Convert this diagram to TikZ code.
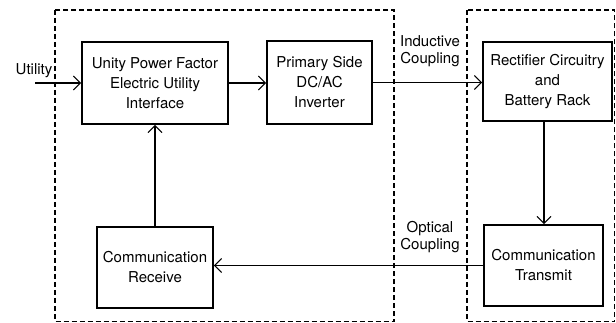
\documentclass[tikz,border=0pt]{standalone}
\usepackage{fontspec}
\setmainfont{TeX Gyre Heros}
\usetikzlibrary{arrows.meta}
\tikzset{
  blockbox/.style={draw, line width=1.6pt, rectangle, align=center, inner sep=0pt,
    font=\fontsize{15}{20}\selectfont},
  region/.style={draw, line width=1.5pt, dash pattern=on 5pt off 3pt},
  flow/.style={draw, line width=1.6pt, -{Straight Barb[length=7pt,width=14pt,line width=1.1pt]}},
  lbl/.style={align=center, inner sep=0pt, font=\fontsize{15}{17.5}\selectfont}
}
\begin{document}
\begin{tikzpicture}[x=1pt,y=-1pt]
\useasboundingbox (0,0) rectangle (616,323);
% dashed regions
\draw[region] (55,10) rectangle (394,321.5);
\draw[region] (467,10) rectangle (614.5,321.5);
% blocks
\node[blockbox, minimum width=146pt, minimum height=82pt] (upf) at (155,83) {Unity Power Factor\\Electric Utility\\Interface};
\node[blockbox, minimum width=105pt, minimum height=83pt] (inv) at (319.5,82.5) {Primary Side\\DC/AC\\Inverter};
\node[blockbox, minimum width=129pt, minimum height=79pt] (rect) at (547.5,81.5) {Rectifier Circuitry\\and\\Battery Rack};
\node[blockbox, minimum width=119pt, minimum height=81pt] (tx) at (543.5,265.5) {Communication\\Transmit};
\node[blockbox, minimum width=116pt, minimum height=81pt] (rx) at (155,267.5) {Communication\\Receive};
% labels
\node[lbl] (util) at (34,71) {Utility};
\node[lbl] (ind) at (430,51) {Inductive\\Coupling};
\node[lbl] (opt) at (430,237) {Optical\\Coupling};
\coordinate (src) at (35,83);
% connectors
\draw[flow] (src) -- (upf.west);
\draw[flow] (upf.east) -- (upf.east -| inv.west);
\draw[flow] (inv.east) -- (inv.east -| rect.west);
\draw[flow] ([xshift=-3.5pt]rect.south) -- ([xshift=-3.5pt]rect.south |- tx.north);
\draw[flow] (tx.west) -- (tx.west -| rx.east);
\draw[flow] (rx.north) -- (upf.south);
\end{tikzpicture}
\end{document}
